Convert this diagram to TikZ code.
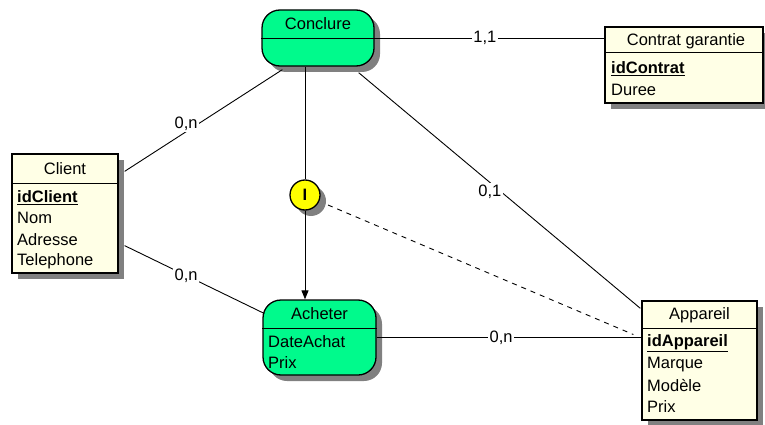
\documentclass[tikz,border=0pt]{standalone}
\usepackage{fontspec}
\setmainfont{Liberation Sans}
\usetikzlibrary{arrows.meta,calc,shadows}
\definecolor{entfill}{RGB}{255,255,230}
\definecolor{relfill}{RGB}{0,250,140}
\definecolor{shadowc}{RGB}{128,128,128}
\definecolor{cifyellow}{RGB}{255,255,0}
\begin{document}
\begin{tikzpicture}[x=1pt,y=-1pt,
  font=\fontsize{16.5}{20}\selectfont,
  shad/.style={drop shadow={shadow xshift=6pt,shadow yshift=-6pt,fill=shadowc,opacity=1}},
  ent/.style={draw=black,line width=1.3pt,fill=entfill,rectangle,inner sep=0pt,shad},
  rel/.style={draw=black,line width=1.3pt,fill=relfill,rectangle,rounded corners=18pt,inner sep=0pt,shad},
  cif/.style={draw=black,line width=1.3pt,fill=cifyellow,circle,inner sep=0pt,minimum size=30pt,shad},
  hdr/.style={line width=1pt},
  title/.style={inner sep=0pt},
  attr/.style={anchor=west,inner sep=0pt},
  conn/.style={line width=0.9pt},
  lbl/.style={fill=white,inner sep=1.5pt}]
\useasboundingbox (0,0) rectangle (765,425);

% entities and relations
\node[ent,minimum width=106pt,minimum height=119pt] (client) at (65,213.5) {};
\node[ent,minimum width=158pt,minimum height=76pt] (contrat) at (684,65) {};
\node[ent,minimum width=115pt,minimum height=119pt] (appareil) at (699.5,360.5) {};
\node[rel,minimum width=112pt,minimum height=56pt] (conclure) at (318,38) {};
\node[rel,minimum width=113pt,minimum height=75pt] (acheter) at (319.5,337.5) {};
\node[cif] (circ) at (305,195) {\textbf{I}};

% header lines
\draw[hdr] (client.west |- 0,183) -- (client.east |- 0,183);
\draw[hdr] (contrat.west |- 0,53) -- (contrat.east |- 0,53);
\draw[hdr] (appareil.west |- 0,328) -- (appareil.east |- 0,328);
\draw[hdr] (conclure.west |- 0,39) -- (conclure.east |- 0,39);
\draw[hdr] (acheter.west |- 0,328) -- (acheter.east |- 0,328);

% texts
\node[title] (clientT) at (65,169) {Client};
\node[attr] (clientA1) at (17,198) {\underline{\textbf{idClient}}};
\node[attr] (clientA2) at (17,218) {Nom};
\node[attr] (clientA3) at (17,240) {Adresse};
\node[attr] (clientA4) at (17,261) {Telephone};

\node[title] (contratT) at (686,41) {Contrat garantie};
\node[attr] (contratA1) at (611,69) {\underline{\textbf{idContrat}}};
\node[attr] (contratA2) at (611,90) {Duree};

\node[title] (appareilT) at (699.5,315) {Appareil};
\node[attr] (appareilA1) at (647,343) {\underline{\textbf{idAppareil}}};
\node[attr] (appareilA2) at (647,365) {Marque};
\node[attr] (appareilA3) at (647,386) {Modèle};
\node[attr] (appareilA4) at (647,407) {Prix};

\node[title] (conclureT) at (318,24) {Conclure};
\node[title] (acheterT) at (319.5,314) {Acheter};
\node[attr] (acheterA1) at (268,342) {DateAchat};
\node[attr] (acheterA2) at (268,363) {Prix};

% connectors
\draw[conn] (conclure.east) -- node[lbl,pos=0.48] (l11) {1,1} (conclure.east -| contrat.west);
\draw[conn] ($(client.north east)+(6,18)$) -- node[lbl,pos=0.39,yshift=8pt] (l0n1) {0,n} ($(conclure.south west)+(21,3)$);
\draw[conn] ($(client.south east)+(6,-28)$) -- node[lbl,pos=0.44] (l0n2) {0,n} ($(acheter.west)+(2,-24)$);
\draw[conn] ($(conclure.south east)+(-16,6)$) -- node[lbl,pos=0.466,yshift=-9pt] (l01) {0,1} ($(appareil.north west)+(-1,8)$);
\draw[conn] (acheter.east) -- node[lbl,pos=0.47] (l0n3) {0,n} (acheter.east -| appareil.west);
\draw[conn] (circ |- conclure.south) -- (circ.north);
\draw[conn,-{Triangle[length=9pt,width=7pt]}] (circ.south) -- (circ |- acheter.north);
\draw[conn,dashed,dash pattern=on 5pt off 5pt] ($(circ.center)+(23,10)$) -- ($(appareil.west)+(-8,-26)$);
\end{tikzpicture}
\end{document}
